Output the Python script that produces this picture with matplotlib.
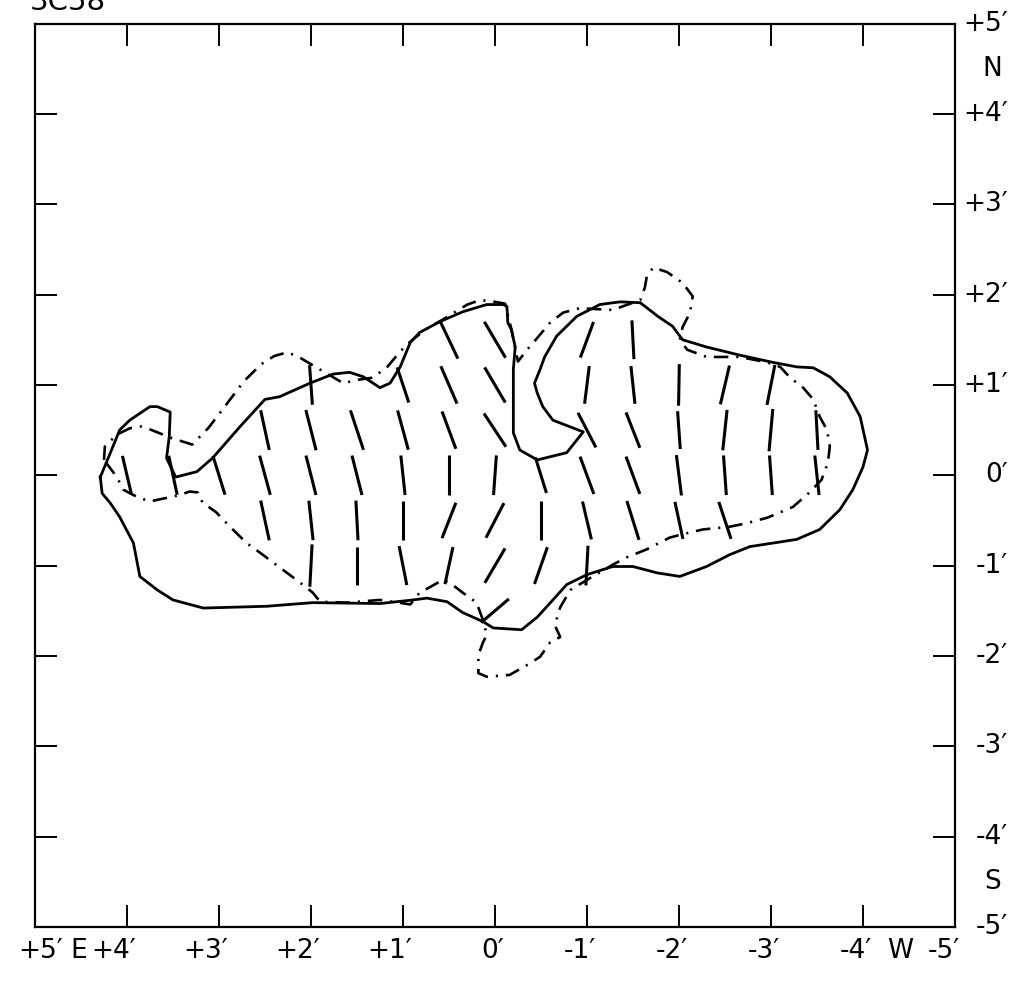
import numpy as np
import matplotlib
matplotlib.use("Agg")
import matplotlib.pyplot as plt

# kontur natezenia calkowitego (linia ciagla), offsety w minutach luku
obrys_x = [4.29, 4.18, 4.08, 3.97, 3.75, 3.67, 3.53, 3.54, 3.57, 3.47, 3.24, 3.07,
           2.77, 2.50, 2.34, 2.01, 1.76, 1.58, 1.43, 1.25, 1.14, 1.03, 0.92, 0.82,
           0.60, 0.35, 0.09, -0.09, -0.13, -0.14, -0.18, -0.22, -0.20, -0.20, -0.27,
           -0.46, -0.78, -0.96, -0.63, -0.52, -0.46, -0.43, -0.49, -0.54, -0.67, -0.89,
           -1.14, -1.36, -1.58, -1.77, -1.93, -2.04, -2.30, -2.66, -3.02, -3.28, -3.46,
           -3.64, -3.83, -3.97, -4.05, -4.00, -3.89, -3.75, -3.53, -3.28, -2.77, -2.55,
           -2.30, -2.01, -1.76, -1.50, -1.28, -1.00, -0.78, -0.63, -0.46, -0.29, 0.02,
           0.13, 0.35, 0.52, 0.74, 0.89, 1.07, 1.25, 1.98, 2.48, 3.17, 3.50, 3.67,
           3.86, 3.93, 4.08, 4.18, 4.27, 4.29]
obrys_y = [-0.02, 0.25, 0.50, 0.61, 0.76, 0.76, 0.70, 0.43, 0.19, -0.02, 0.04, 0.19,
           0.54, 0.84, 0.87, 1.02, 1.12, 1.14, 1.09, 0.97, 1.02, 1.20, 1.47, 1.58,
           1.70, 1.81, 1.89, 1.89, 1.87, 1.69, 1.61, 1.42, 1.17, 0.47, 0.28,
           0.17, 0.25, 0.48, 0.61, 0.76, 0.91, 1.02, 1.17, 1.31, 1.54, 1.76,
           1.89, 1.92, 1.91, 1.76, 1.65, 1.50, 1.42, 1.33, 1.25, 1.20, 1.19,
           1.09, 0.91, 0.65, 0.28, 0.09, -0.16, -0.38, -0.60, -0.71, -0.79, -0.88,
           -1.01, -1.12, -1.08, -1.01, -1.01, -1.10, -1.21, -1.38, -1.57, -1.71, -1.69,
           -1.62, -1.52, -1.40, -1.36, -1.38, -1.40, -1.42, -1.41, -1.45, -1.47, -1.38, -1.27,
           -1.12, -0.75, -0.46, -0.31, -0.20, -0.02]

# kontur natezenia spolaryzowanego (kreska-kropka)
pol_x = [4.25, 4.24, 4.11, 3.97, 3.84, 3.73, 3.51, 3.29, 3.11, 2.93, 2.73, 2.54,
         2.40, 2.26, 2.15, 1.90, 1.65, 1.47, 1.33, 1.17, 1.03, 0.92, 0.76, 0.54,
         0.30, 0.16, 0.00, -0.11, -0.18, -0.25, -0.35, -0.46, -0.60, -0.74, -0.92,
         -1.28, -1.58, -1.63, -1.65, -1.72, -1.87, -2.04, -2.15, -2.12, -2.04, -2.01,
         -2.09, -2.30, -2.66, -2.96, -3.10, -3.21, -3.35, -3.46, -3.53, -3.61, -3.64,
         -3.62, -3.55, -3.42, -3.24, -2.96, -2.74, -2.55, -2.26, -2.01, -1.90, -1.65,
         -1.43, -1.28, -1.03, -0.82, -0.71, -0.65, -0.71, -0.60, -0.49, -0.35, -0.16,
         0.09, 0.18, 0.18, 0.13, 0.09, 0.12, 0.20, 0.35, 0.49, 0.57, 0.71, 0.82,
         0.92, 1.11, 1.25, 1.61, 1.90, 1.98, 2.09, 2.34, 2.55, 2.70, 2.88, 3.03,
         3.18, 3.23, 3.32, 3.43, 3.57, 3.75, 3.89, 4.04, 4.11, 4.25]
pol_y = [0.17, 0.32, 0.45, 0.52, 0.54, 0.50, 0.41, 0.34, 0.53, 0.77, 1.04, 1.23,
         1.32, 1.36, 1.32, 1.17, 1.02, 1.06, 1.08, 1.20, 1.37, 1.48, 1.61, 1.74,
         1.89, 1.94, 1.92, 1.90, 1.61, 1.26, 1.39, 1.52, 1.69, 1.80, 1.85,
         1.83, 1.94, 2.08, 2.20, 2.30, 2.25, 2.13, 1.98, 1.80, 1.64, 1.50,
         1.39, 1.31, 1.31, 1.25, 1.20, 1.08, 0.97, 0.84, 0.65, 0.50, 0.32,
         0.14, -0.05, -0.19, -0.35, -0.47, -0.53, -0.57, -0.60, -0.66, -0.69, -0.82,
         -0.91, -0.99, -1.14, -1.27, -1.46, -1.66, -1.79, -1.85, -2.01, -2.10, -2.21,
         -2.23, -2.19, -1.99, -1.85, -1.77, -1.63, -1.41, -1.30, -1.19, -1.16, -1.24, -1.30,
         -1.43, -1.40, -1.38, -1.41, -1.40, -1.30, -1.21, -1.02, -0.86, -0.75, -0.57, -0.41,
         -0.30, -0.19, -0.18, -0.22, -0.25, -0.29, -0.24, -0.16, -0.02, 0.17]

# wektory polaryzacji: polozenie, kat pozycyjny (stopnie, od N przez E), dlugosc
wek_x = [4.0, 3.5, 3.0,
         2.5, 2.5, 2.5,
         2.0, 2.0, 2.0, 2.0, 2.0,
         1.5, 1.5, 1.5, 1.5,
         1.0, 1.0, 1.0, 1.0, 1.0,
         0.5, 0.5, 0.5, 0.5, 0.5, 0.5,
         0.0, 0.0, 0.0, 0.0, 0.0, 0.0, 0.0,
         -0.5, -0.5, -0.5,
         -1.0, -1.0, -1.0, -1.0, -1.0, -1.0,
         -1.5, -1.5, -1.5, -1.5, -1.5,
         -2.0, -2.0, -2.0, -2.0,
         -2.5, -2.5, -2.5, -2.5,
         -3.0, -3.0, -3.0,
         -3.5, -3.5]
wek_y = [0.0, 0.0, 0.0,
         0.5, 0.0, -0.5,
         1.0, 0.5, 0.0, -0.5, -1.0,
         0.5, 0.0, -0.5, -1.0,
         1.0, 0.5, 0.0, -0.5, -1.0,
         1.5, 1.0, 0.5, 0.0, -0.5, -1.0,
         1.5, 1.0, 0.5, 0.0, -0.5, -1.0, -1.5,
         0.0, -0.5, -1.0,
         1.5, 1.0, 0.5, 0.0, -0.5, -1.0,
         1.5, 1.0, 0.5, 0.0, -0.5,
         1.0, 0.5, 0.0, -0.5,
         1.0, 0.5, 0.0, -0.5,
         1.0, 0.5, 0.0,
         0.5, 0.0]
wek_pa = [13, 12, 17,
          12, 15, 12,
          4, 14, 14, 6, -3,
          18, 14, 3, 0,
          18, 15, 6, 0, 11,
          25, 23, 20, 0, -21, -12,
          30, 30, 33, -4, -27, -30, -49,
          17, 0, -19,
          -20, -7, 27, 20, 13, -3,
          3, 6, 21, 20, 17,
          -1, 4, 7, 12,
          -13, -6, 4, 18,
          -11, -5, 4,
          3, 6]
wek_len = [0.44, 0.44, 0.45,
           0.45, 0.45, 0.45,
           0.44, 0.46, 0.45, 0.44, 0.47,
           0.46, 0.45, 0.44, 0.42,
           0.41, 0.45, 0.44, 0.44, 0.44,
           0.46, 0.45, 0.44, 0.44, 0.42, 0.42,
           0.46, 0.45, 0.44, 0.44, 0.43, 0.44, 0.40,
           0.41, 0.43, 0.43,
           0.42, 0.42, 0.43, 0.44, 0.43, 0.44,
           0.43, 0.42, 0.42, 0.44, 0.45,
           0.46, 0.42, 0.45, 0.42,
           0.44, 0.45, 0.44, 0.43,
           0.45, 0.47, 0.44,
           0.44, 0.44]

# opisy osi
tyk_x = [4, 3, 2, 1, 0, -1, -2, -3, -4]
opis_x = ["+4′", "+3′", "+2′", "+1′", "0′", "-1′", "-2′", "-3′", "-4′"]
tyk_y = [5, 4, 3, 2, 1, 0, -1, -2, -3, -4, -5]
opis_y = ["+5′", "+4′", "+3′", "+2′", "+1′", "0′", "-1′", "-2′", "-3′", "-4′", "-5′"]

fig = plt.figure(figsize=(10.29, 9.84), dpi=100)
ax = fig.add_axes([0.034, 0.058, 0.894, 0.918])
ax.set_xlim(5, -5)
ax.set_ylim(-5, 5)

ax.plot(obrys_x, obrys_y, color="black", linewidth=2)
ax.plot(pol_x, pol_y, color="black", linewidth=1.9, linestyle=(0, (5.5, 3, 0.8, 3)))

for x, y, pa, l in zip(wek_x, wek_y, wek_pa, wek_len):
    kat = np.radians(pa)
    dx = 0.5 * l * np.sin(kat)   # skladowa E (w lewo)
    dy = 0.5 * l * np.cos(kat)
    ax.plot([x - dx, x + dx], [y - dy, y + dy], color="black", linewidth=2.2,
            solid_capstyle="butt")

ax.set_xticks(range(-4, 5))
ax.set_yticks(range(-4, 5))
ax.tick_params(direction="in", length=16, width=1.4, top=True, right=True,
               labelbottom=False, labelleft=False)
for s in ax.spines.values():
    s.set_linewidth(1.6)

fs = 19
tx = ax.get_xaxis_transform()
for x, t in zip(tyk_x, opis_x):
    ax.text(x - 0.1, -0.027, t, transform=tx, ha="right", va="center", fontsize=fs)
ax.text(4.70, -0.027, "+5′", transform=tx, ha="right", va="center", fontsize=fs)
ax.text(4.53, -0.027, "E", transform=tx, ha="center", va="center", fontsize=fs)
ax.text(-4.41, -0.027, "W", transform=tx, ha="center", va="center", fontsize=fs)
ax.text(-5.05, -0.027, "-5′", transform=tx, ha="right", va="center", fontsize=fs)

ty = ax.get_yaxis_transform()
for y, t in zip(tyk_y, opis_y):
    ax.text(1.058, y, t, transform=ty, ha="right", va="center", fontsize=fs)
ax.text(1.041, 4.5, "N", transform=ty, ha="center", va="center", fontsize=fs)
ax.text(1.041, -4.5, "S", transform=ty, ha="center", va="center", fontsize=fs)

fig.text(0.029, 0.99, "3C58", fontsize=21, va="baseline", ha="left")

fig.savefig("out.png", dpi=100)
